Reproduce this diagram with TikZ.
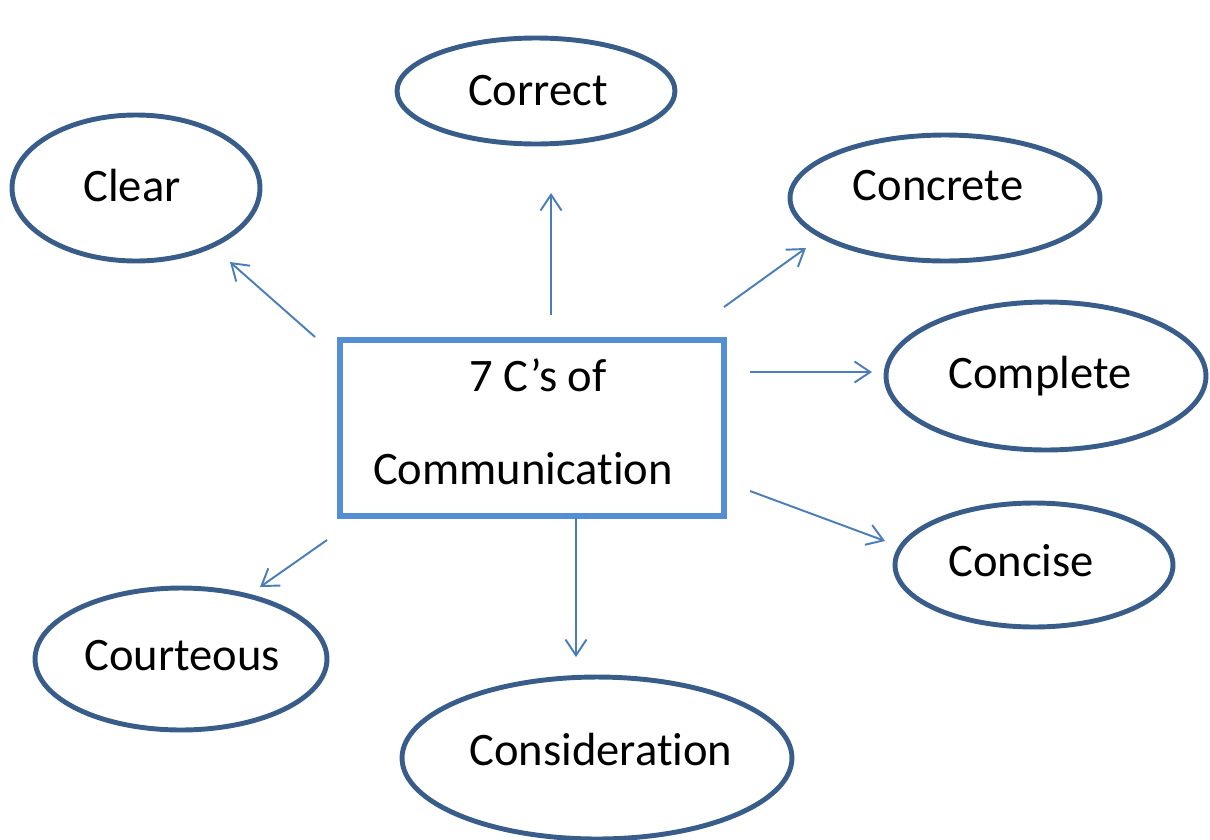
\documentclass[tikz,border=0pt]{standalone}
\usepackage{fontspec}
\setmainfont[Ligatures=NoCommon]{Carlito}
\usetikzlibrary{arrows.meta, shapes.geometric}
\definecolor{ringB}{RGB}{56,93,138}
\definecolor{boxB}{RGB}{85,142,213}
\definecolor{arrB}{RGB}{74,126,187}
\begin{document}
\begin{tikzpicture}[x=0.02cm, y=-0.02cm,
  cword/.style={ellipse, draw=ringB, line width=2.8pt, inner sep=0pt},
  ctext/.style={inner sep=0pt, font=\fontsize{26.5}{30}\selectfont},
  clink/.style={-{Straight Barb[length=9pt, width=12pt]}, arrB, line width=1.1pt}]
\useasboundingbox (0,0) rectangle (1210,839);
% centre box
\node[draw=boxB, line width=3.2pt, minimum width=7.68cm, minimum height=3.52cm] (hub) at (532,428) {};
\node[ctext] (hubA) at (538,375) {7 C’s of};
\node[ctext] (hubB) at (523,469) {Communication};
% the seven C's
\node[cword, minimum width=5.56cm, minimum height=2.12cm] (correct) at (536,91) {};
\node[cword, minimum width=4.96cm, minimum height=2.92cm] (clear) at (136,188) {};
\node[cword, minimum width=6.2cm, minimum height=2.52cm] (concrete) at (945,198) {};
\node[cword, minimum width=6.4cm, minimum height=2.96cm] (complete) at (1046,376) {};
\node[cword, minimum width=5.56cm, minimum height=2.48cm] (concise) at (1034,565) {};
\node[cword, minimum width=5.84cm, minimum height=2.84cm] (courteous) at (181,659) {};
\node[cword, minimum width=7.8cm, minimum height=3.24cm] (consider) at (597,758) {};
% labels, a little off the ellipse centres
\node[ctext] (correctT) at (538,91) {Correct};
\node[ctext] (clearT) at (132,186) {Clear};
\node[ctext] (concreteT) at (938,186) {Concrete};
\node[ctext] (completeT) at (1040,376) {Complete};
\node[ctext] (conciseT) at (1021,561) {Concise};
\node[ctext] (courteousT) at (182,656) {Courteous};
\node[ctext] (considerT) at (601,749) {Consideration};
% arrow ends
\coordinate (sClear) at (315,337);    \coordinate (eClear) at (230,262);
\coordinate (sCorrect) at (551,315);  \coordinate (eCorrect) at (551,193);
\coordinate (sConcrete) at (724,307); \coordinate (eConcrete) at (806,248);
\coordinate (sComplete) at (750,372); \coordinate (eComplete) at (872,372);
\coordinate (sConcise) at (750,491);  \coordinate (eConcise) at (885,541);
\coordinate (sConsider) at (576,518); \coordinate (eConsider) at (576,657);
\coordinate (sCourt) at (327,540);    \coordinate (eCourt) at (260,587);
\foreach \c in {Clear,Correct,Concrete,Complete,Concise,Consider,Court}
  \draw[clink] (s\c) -- (e\c);
\end{tikzpicture}
\end{document}
